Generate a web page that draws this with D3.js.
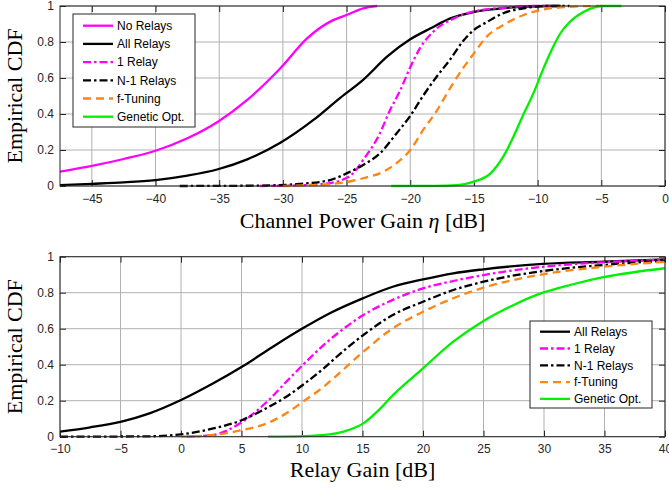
<!DOCTYPE html>
<html>
<head>
<meta charset="utf-8">
<script src="https://cdn.jsdelivr.net/npm/d3@7"></script>
<style>
  body { margin: 0; background: #fff; }
  svg { display: block; }
  .tick-label { font-family: "Liberation Sans", Arial, sans-serif; font-size: 12px; fill: #262626; }
  .axis-title { font-family: "Liberation Serif", "Times New Roman", serif; font-size: 22px; fill: #000; }
  .legend-text { font-family: "Liberation Sans", Arial, sans-serif; font-size: 12px; fill: #000; }
</style>
</head>
<body>
<div id="chart"></div>
<script>
var svgWidth = 669;
var svgHeight = 494;

// ---- data ----
// top panel: channel power gain (dB) vs CDF
var topNoRelays = [[-47.5,0.08],[-44.9,0.113],[-42.5,0.15],[-40,0.196],[-37.5,0.265],[-35.1,0.357],[-32.8,0.478],[-30.2,0.654],[-28.1,0.82],[-26.1,0.92],[-25,0.95],[-23.7,0.987],[-22.6,1]];
var topAllRelays = [[-47.5,0.005],[-45,0.012],[-42.5,0.02],[-40,0.033],[-37.5,0.058],[-35.1,0.093],[-32.8,0.148],[-30.2,0.24],[-27.6,0.367],[-25.5,0.49],[-23.7,0.59],[-21.8,0.72],[-20,0.815],[-18.4,0.876],[-16.9,0.93],[-15,0.967],[-12.4,0.99],[-9.3,1],[-8.2,1]];
var top1Relay = [[-31.8,0],[-29,0.003],[-27,0.01],[-25.5,0.03],[-24.5,0.07],[-23.7,0.145],[-22.4,0.29],[-21.6,0.42],[-20.8,0.53],[-20,0.66],[-19.2,0.77],[-18.2,0.857],[-16.6,0.93],[-15,0.97],[-12.7,0.99],[-10.6,1],[-9,1]];
var topN1Relays = [[-38.1,0],[-32,0.002],[-29,0.01],[-26.3,0.033],[-25,0.07],[-23.7,0.117],[-22.4,0.18],[-21.1,0.29],[-20,0.39],[-19,0.5],[-17.9,0.61],[-16.9,0.7],[-15.8,0.81],[-15,0.867],[-14,0.91],[-12.7,0.96],[-11.1,0.987],[-9.3,1],[-7.5,1]];
var topFTuning = [[-30,0],[-28,0.004],[-26.3,0.01],[-25,0.022],[-23.7,0.043],[-22.1,0.08],[-21.1,0.126],[-20,0.2],[-19,0.31],[-17.9,0.42],[-16.9,0.54],[-15.8,0.66],[-15,0.737],[-14,0.83],[-12.7,0.894],[-11.1,0.95],[-9.6,0.98],[-7.5,0.995],[-5.4,1],[-4.9,1]];
var topGenetic = [[-21.5,0],[-18,0.001],[-16.3,0.005],[-15,0.024],[-13.7,0.07],[-12.7,0.163],[-11.9,0.274],[-11.1,0.4],[-10.3,0.52],[-9.6,0.644],[-8.9,0.756],[-8.2,0.85],[-7.5,0.91],[-6.4,0.967],[-5.4,0.995],[-4.9,1],[-3.4,1]];

// bottom panel: relay gain (dB) vs CDF
var botAllRelays = [[-10,0.028],[-7.5,0.052],[-5,0.083],[-2.6,0.13],[0,0.204],[2.67,0.297],[5.07,0.39],[7.6,0.5],[10.06,0.602],[12.3,0.686],[15.07,0.77],[17.5,0.833],[20,0.874],[22.5,0.908],[25,0.93],[29.9,0.96],[34.9,0.972],[40,0.985]];
var bot1Relay = [[0.47,0],[2.67,0.01],[5.07,0.083],[7.1,0.194],[8.7,0.305],[10.06,0.398],[11.8,0.51],[12.9,0.572],[15.07,0.676],[17.5,0.76],[20,0.824],[22.5,0.865],[25,0.898],[29.9,0.944],[34.9,0.969],[40,0.983]];
var botN1Relays = [[-10,0],[-5,0.001],[-2.6,0.002],[0,0.013],[2.67,0.046],[5.07,0.093],[7.1,0.16],[8.7,0.222],[10.06,0.287],[11.8,0.38],[12.8,0.44],[15.07,0.565],[17.5,0.676],[20,0.75],[22.5,0.815],[25,0.861],[29.9,0.92],[34.9,0.954],[40,0.978]];
var botFTuning = [[0,0],[2.67,0.01],[5.07,0.037],[7.1,0.074],[8.7,0.13],[10.06,0.194],[11.8,0.278],[12.7,0.33],[15.07,0.472],[17.5,0.602],[20,0.694],[22.5,0.769],[25,0.828],[29.9,0.902],[34.9,0.944],[40,0.972]];
var botGenetic = [[7.2,0],[10.06,0.003],[12.3,0.013],[13.5,0.03],[15.07,0.074],[16.3,0.145],[17.5,0.23],[20,0.38],[22.5,0.528],[25,0.643],[27.5,0.732],[29.9,0.8],[32.4,0.847],[34.9,0.886],[40,0.936]];

var topXTicks = [-45, -40, -35, -30, -25, -20, -15, -10, -5, 0];
var botXTicks = [-10, -5, 0, 5, 10, 15, 20, 25, 30, 35, 40];
var yTicks = [0, 0.2, 0.4, 0.6, 0.8, 1];

var styles = {
    noRelays: { label: "No Relays", color: "#ff00ff", dash: null },
    allRelays: { label: "All Relays", color: "#000000", dash: null },
    oneRelay: { label: "1 Relay", color: "#ff00ff", dash: "8,3,2.5,3" },
    n1Relays: { label: "N-1 Relays", color: "#000000", dash: "8,3,2.5,3" },
    fTuning: { label: "f-Tuning", color: "#ff8514", dash: "8,5" },
    genetic: { label: "Genetic Opt.", color: "#00f000", dash: null }
};

var svg = d3.select("#chart")
    .append("svg")
    .attr("width", svgWidth)
    .attr("height", svgHeight);

function drawPanel(cfg) {
    var x = d3.scaleLinear().domain(cfg.xDomain).range([cfg.left, cfg.right]);
    var y = d3.scaleLinear().domain([0, 1]).range([cfg.bottom, cfg.top]);
    var g = svg.append("g");

    // grid
    g.append("g").selectAll("line")
        .data(cfg.xTicks)
        .enter().append("line")
        .attr("x1", d => x(d)).attr("x2", d => x(d))
        .attr("y1", cfg.top).attr("y2", cfg.bottom)
        .attr("stroke", "#b0b0b0").attr("stroke-width", 1);
    g.append("g").selectAll("line")
        .data(yTicks)
        .enter().append("line")
        .attr("x1", cfg.left).attr("x2", cfg.right)
        .attr("y1", d => y(d)).attr("y2", d => y(d))
        .attr("stroke", "#b0b0b0").attr("stroke-width", 1);

    // axes with inward ticks, box on
    var tickLen = 6;
    g.append("g")
        .attr("transform", `translate(0, ${cfg.bottom})`)
        .call(d3.axisBottom(x).tickValues(cfg.xTicks).tickSizeInner(-tickLen).tickSizeOuter(0).tickPadding(8))
        .call(ax => ax.select(".domain").remove())
        .call(ax => ax.selectAll("line").attr("stroke", "#262626"))
        .call(ax => ax.selectAll("text").attr("class", "tick-label").attr("fill", null));
    g.append("g")
        .attr("transform", `translate(0, ${cfg.top})`)
        .call(d3.axisTop(x).tickValues(cfg.xTicks).tickSizeInner(-tickLen).tickSizeOuter(0).tickFormat(""))
        .call(ax => ax.select(".domain").remove())
        .call(ax => ax.selectAll("line").attr("stroke", "#262626"));
    g.append("g")
        .attr("transform", `translate(${cfg.left}, 0)`)
        .call(d3.axisLeft(y).tickValues(yTicks).tickSizeInner(-tickLen).tickSizeOuter(0).tickPadding(6).tickFormat(d3.format("~g")))
        .call(ax => ax.select(".domain").remove())
        .call(ax => ax.selectAll("line").attr("stroke", "#262626"))
        .call(ax => ax.selectAll("text").attr("class", "tick-label").attr("fill", null));
    g.append("g")
        .attr("transform", `translate(${cfg.right}, 0)`)
        .call(d3.axisRight(y).tickValues(yTicks).tickSizeInner(-tickLen).tickSizeOuter(0).tickFormat(""))
        .call(ax => ax.select(".domain").remove())
        .call(ax => ax.selectAll("line").attr("stroke", "#262626"));

    var line = d3.line()
        .x(d => x(d[0]))
        .y(d => y(d[1]))
        .curve(d3.curveMonotoneX);

    var clipId = "clip" + cfg.id;
    svg.append("clipPath").attr("id", clipId)
        .append("rect")
        .attr("x", cfg.left).attr("y", cfg.top - 2)
        .attr("width", cfg.right - cfg.left).attr("height", cfg.bottom - cfg.top + 4);

    var lines = g.append("g").attr("clip-path", `url(#${clipId})`);
    cfg.series.forEach(s => {
        var st = styles[s.key];
        lines.append("path")
            .datum(s.values)
            .attr("d", line)
            .attr("fill", "none")
            .attr("stroke", st.color)
            .attr("stroke-width", 2.3)
            .attr("stroke-dasharray", st.dash);
    });

    // box
    g.append("rect")
        .attr("x", cfg.left).attr("y", cfg.top)
        .attr("width", cfg.right - cfg.left).attr("height", cfg.bottom - cfg.top)
        .attr("fill", "none").attr("stroke", "#262626").attr("stroke-width", 1);

    // titles
    var xt = g.append("text")
        .attr("class", "axis-title")
        .attr("x", (cfg.left + cfg.right) / 2)
        .attr("y", cfg.xTitleY)
        .attr("text-anchor", "middle");
    cfg.xTitle.forEach(part => {
        xt.append("tspan").text(part.t).attr("font-style", part.italic ? "italic" : null);
    });

    g.append("text")
        .attr("class", "axis-title")
        .attr("transform", `translate(22, ${(cfg.top + cfg.bottom) / 2}) rotate(-90)`)
        .attr("text-anchor", "middle")
        .text("Empirical CDF");

    // legend
    var lg = cfg.legend;
    var legend = g.append("g");
    legend.append("rect")
        .attr("x", lg.x).attr("y", lg.y)
        .attr("width", lg.w).attr("height", lg.h)
        .attr("fill", "#fff").attr("stroke", "#262626").attr("stroke-width", 1);
    cfg.series.forEach((s, i) => {
        var st = styles[s.key];
        var cy = lg.y + lg.first + i * lg.step;
        legend.append("line")
            .attr("x1", lg.x + 10).attr("x2", lg.x + 40)
            .attr("y1", cy).attr("y2", cy)
            .attr("stroke", st.color).attr("stroke-width", 2.3)
            .attr("stroke-dasharray", st.dash);
        legend.append("text")
            .attr("class", "legend-text")
            .attr("x", lg.x + 44).attr("y", cy)
            .attr("dy", "0.36em")
            .text(st.label);
    });
}

drawPanel({
    id: "top",
    left: 60, right: 665, top: 6, bottom: 186,
    xDomain: [-47.5, 0],
    xTicks: topXTicks,
    xTitle: [{ t: "Channel Power Gain " }, { t: "η", italic: true }, { t: " [dB]" }],
    xTitleY: 228,
    series: [
        { key: "noRelays", values: topNoRelays },
        { key: "allRelays", values: topAllRelays },
        { key: "oneRelay", values: top1Relay },
        { key: "n1Relays", values: topN1Relays },
        { key: "fTuning", values: topFTuning },
        { key: "genetic", values: topGenetic }
    ],
    legend: { x: 73, y: 14, w: 122, h: 113, first: 11.7, step: 18.2 }
});

drawPanel({
    id: "bot",
    left: 60, right: 665, top: 256.7, bottom: 436.7,
    xDomain: [-10, 40],
    xTicks: botXTicks,
    xTitle: [{ t: "Relay Gain [dB]" }],
    xTitleY: 477,
    series: [
        { key: "allRelays", values: botAllRelays },
        { key: "oneRelay", values: bot1Relay },
        { key: "n1Relays", values: botN1Relays },
        { key: "fTuning", values: botFTuning },
        { key: "genetic", values: botGenetic }
    ],
    legend: { x: 530, y: 321, w: 122, h: 87, first: 10.7, step: 16.8 }
});
</script>
</body>
</html>
